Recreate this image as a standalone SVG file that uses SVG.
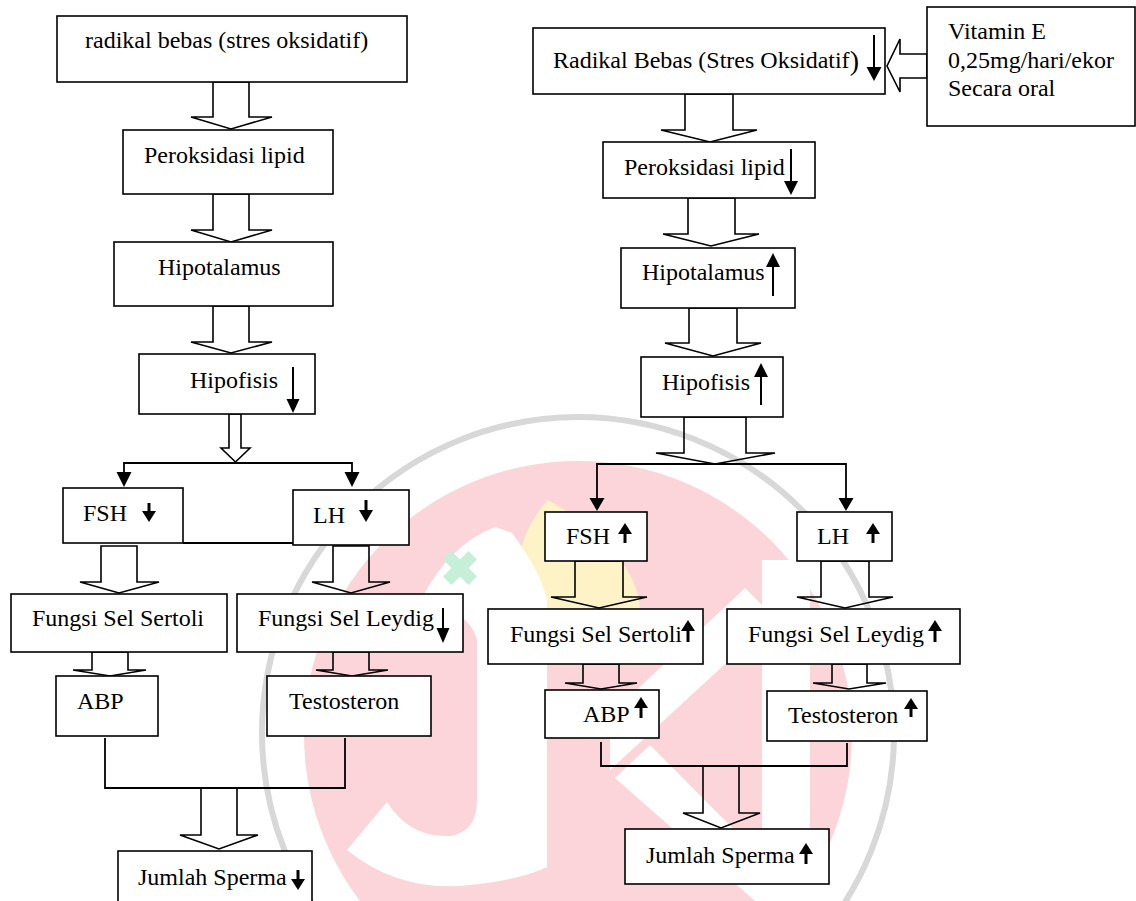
<svg xmlns="http://www.w3.org/2000/svg" width="1136" height="901" viewBox="0 0 1136 901">
<style>
.box{fill:#fff;stroke:#000;stroke-width:1.6}
.blk{fill:none;stroke:#000;stroke-width:1.6;stroke-linejoin:miter}
.ln{fill:none;stroke:#000;stroke-width:1.8}
.thin{stroke:#000;stroke-width:2}
.thick{stroke:#000;stroke-width:3}
.hd{fill:#000}
text{font-family:"Liberation Serif","Times New Roman",serif;font-size:24px;fill:#000}
</style>
<rect width="1136" height="901" fill="#fff"/>
<g id="watermark">
<circle cx="578" cy="735" r="274" fill="#fcd5da"/>
<path fill="#fdf3c6" d="M548 500 C520 530 510 575 520 612 L640 612 C640 570 600 530 548 500 Z"/>
<path fill="#fff" d="M420 602 Q448 545 495 527 L512 533 Q540 570 547 600 L547 867 Q520 880 470 885 Q400 893 347 850 L387 802 Q410 838 450 836 Q477 832 477 800 L477 640 Q470 610 420 602 Z"/>
<polygon fill="#fff" points="610,715 745,588 775,618 610,770"/>
<polygon fill="#fff" points="615,778 650,745 805,901 755,901"/>
<rect x="762" y="560" width="48" height="341" fill="#fff"/>
<g transform="translate(460 568) rotate(45)" fill="#c6efd9"><rect x="-18" y="-6" width="36" height="12"/><rect x="-6" y="-18" width="12" height="36"/></g>
<circle cx="578" cy="733" r="316" fill="none" stroke="#d8d8d8" stroke-width="6"/>
</g>
<g id="connectors">
<polygon class="blk" points="213,82 249,82 249,117 272,117 231,129 191,117 213,117"/>
<polygon class="blk" points="213,194 249,194 249,230 272,230 231,242 191,230 213,230"/>
<polygon class="blk" points="213,306 249,306 249,342 272,342 231,353 191,342 213,342"/>
<polygon class="blk" points="229,414 241,414 241,448 250,448 235.5,462 221,448 229,448"/>
<polygon class="blk" points="101,546 137,546 137,582 159,582 119,593 80,582 101,582"/>
<polygon class="blk" points="333,546 369,546 369,582 390,582 351,593 312,582 333,582"/>
<polygon class="blk" points="92,652 128,652 128,670 146,670 110,676 73,670 92,670"/>
<polygon class="blk" points="333,652 369,652 369,670 388,670 352,676 316,670 333,670"/>
<polygon class="blk" points="201,788 237,788 237,835 258,835 219,849 180,835 201,835"/>
<path class="ln" d="M124,472 V463 H352 V472"/>
<polygon class="hd" points="116.5,472 131.5,472 124,487"/>
<polygon class="hd" points="344.5,472 359.5,472 352,487"/>
<path class="ln" d="M183,543 H365"/>
<path class="ln" d="M105,738 V788 H345 V738"/>
<polygon class="blk" points="927,54 900,54 900,39 887,66 900,92 900,78 927,78"/>
<polygon class="blk" points="685,94 733,94 733,130 757,130 710,142 661,130 685,130"/>
<polygon class="blk" points="688,198 735,198 735,234 759,234 711,246 663,234 688,234"/>
<polygon class="blk" points="689,308 737,308 737,343 761,343 713,356 665,343 689,343"/>
<polygon class="blk" points="684,417 746,417 746,453 775,453 715,464 656,453 684,453"/>
<path class="ln" d="M597,498 V464 H846 V498"/>
<polygon class="hd" points="589.5,498 604.5,498 597,511"/>
<polygon class="hd" points="838.5,498 853.5,498 846,511"/>
<polygon class="blk" points="575,561 623,561 623,597 647,597 599,608 551,597 575,597"/>
<polygon class="blk" points="821,561 869,561 869,597 893,597 845,608 797,597 821,597"/>
<polygon class="blk" points="583,664 619,664 619,683 637,683 601,689 565,683 583,683"/>
<polygon class="blk" points="832,664 867,664 867,683 886,683 849,689 813,683 832,683"/>
<path class="ln" d="M601,742 V766 H847 V743"/>
<polygon class="blk" points="703,766 739,766 739,813 760,813 721,828 683,813 703,813"/>
</g>
<g id="l-radikal"><rect class="box" x="57" y="16" width="350" height="66"/><text x="85" y="48">radikal bebas (stres oksidatif)</text></g>
<g id="l-peroksidasi"><rect class="box" x="123" y="130" width="210" height="64"/><text x="144" y="163">Peroksidasi lipid</text></g>
<g id="l-hipotalamus"><rect class="box" x="114" y="242" width="219" height="64"/><text x="158" y="275">Hipotalamus</text></g>
<g id="l-hipofisis"><rect class="box" x="139" y="354" width="176" height="60"/><text x="190" y="388">Hipofisis</text><line class="thin" x1="293" y1="367" x2="293" y2="400"/><polygon class="hd" points="286.5,399 299.5,399 293,413"/></g>
<g id="l-fsh"><rect class="box" x="63" y="488" width="120" height="55"/><text x="83" y="521">FSH</text><line class="thick" x1="149" y1="503" x2="149" y2="512"/><polygon class="hd" points="142,511 156,511 149,522"/></g>
<g id="l-lh"><rect class="box" x="293" y="490" width="116" height="55"/><text x="313" y="523">LH</text><line class="thick" x1="366" y1="500" x2="366" y2="511"/><polygon class="hd" points="359,510 373,510 366,522"/></g>
<g id="l-sertoli"><rect class="box" x="11" y="594" width="216" height="58"/><text x="32" y="626">Fungsi Sel Sertoli</text></g>
<g id="l-leydig"><rect class="box" x="237" y="594" width="226" height="58"/><text x="258" y="626">Fungsi Sel Leydig</text><line class="thin" x1="443" y1="608" x2="443" y2="629"/><polygon class="hd" points="436.5,628 449.5,628 443,643"/></g>
<g id="l-abp"><rect class="box" x="56" y="676" width="102" height="60"/><text x="77" y="709">ABP</text></g>
<g id="l-testosteron"><rect class="box" x="267" y="676" width="164" height="60"/><text x="289" y="709">Testosteron</text></g>
<g id="l-jumlah"><rect class="box" x="118" y="851" width="194" height="60"/><text x="138" y="885">Jumlah Sperma</text><line class="thick" x1="298" y1="870" x2="298" y2="880"/><polygon class="hd" points="291,879 305,879 298,890"/></g>
<g id="r-vitamin"><rect class="box" x="927" y="7" width="208" height="119"/><text x="948" y="39">Vitamin E</text><text x="948" y="68">0,25mg/hari/ekor</text><text x="948" y="96">Secara oral</text></g>
<g id="r-radikal"><rect class="box" x="533" y="28" width="352" height="66"/><text x="553" y="68">Radikal Bebas (Stres Oksidatif<tspan font-size="28" dy="2">)</tspan></text><line class="thin" x1="874" y1="35" x2="874" y2="68"/><polygon class="hd" points="866.5,67 881.5,67 874,81"/></g>
<g id="r-peroksidasi"><rect class="box" x="603" y="142" width="212" height="56"/><text x="624" y="175">Peroksidasi lipid</text><line class="thin" x1="791" y1="149" x2="791" y2="182"/><polygon class="hd" points="784,181 798,181 791,195"/></g>
<g id="r-hipotalamus"><rect class="box" x="621" y="248" width="174" height="60"/><text x="642" y="280">Hipotalamus</text><line class="thin" x1="773" y1="296" x2="773" y2="266"/><polygon class="hd" points="766,267 780,267 773,253"/></g>
<g id="r-hipofisis"><rect class="box" x="641" y="357" width="142" height="60"/><text x="662" y="390">Hipofisis</text><line class="thin" x1="761" y1="405" x2="761" y2="376"/><polygon class="hd" points="754,377 768,377 761,363"/></g>
<g id="r-fsh"><rect class="box" x="545" y="512" width="102" height="49"/><text x="566" y="544">FSH</text><line class="thick" x1="625" y1="543" x2="625" y2="533"/><polygon class="hd" points="618,534 632,534 625,523"/></g>
<g id="r-lh"><rect class="box" x="797" y="512" width="95" height="49"/><text x="817" y="544">LH</text><line class="thick" x1="873" y1="543" x2="873" y2="533"/><polygon class="hd" points="866,534 880,534 873,523"/></g>
<g id="r-sertoli"><rect class="box" x="488" y="609" width="215" height="55"/><text x="510" y="642">Fungsi Sel Sertoli</text><line class="thick" x1="688" y1="642" x2="688" y2="630"/><polygon class="hd" points="681,631 695,631 688,620"/></g>
<g id="r-leydig"><rect class="box" x="727" y="609" width="233" height="55"/><text x="748" y="642">Fungsi Sel Leydig</text><line class="thick" x1="935" y1="642" x2="935" y2="630"/><polygon class="hd" points="928,631 942,631 935,620"/></g>
<g id="r-abp"><rect class="box" x="545" y="690" width="114" height="48"/><text x="583" y="722">ABP</text><line class="thick" x1="641" y1="718" x2="641" y2="707"/><polygon class="hd" points="634,708 648,708 641,697"/></g>
<g id="r-testosteron"><rect class="box" x="767" y="691" width="160" height="50"/><text x="788" y="723">Testosteron</text><line class="thick" x1="911" y1="717" x2="911" y2="708"/><polygon class="hd" points="904,709 918,709 911,698"/></g>
<g id="r-jumlah"><rect class="box" x="625" y="829" width="204" height="55"/><text x="646" y="863">Jumlah Sperma</text><line class="thick" x1="806" y1="864" x2="806" y2="853"/><polygon class="hd" points="799,854 813,854 806,843"/></g>
</svg>
